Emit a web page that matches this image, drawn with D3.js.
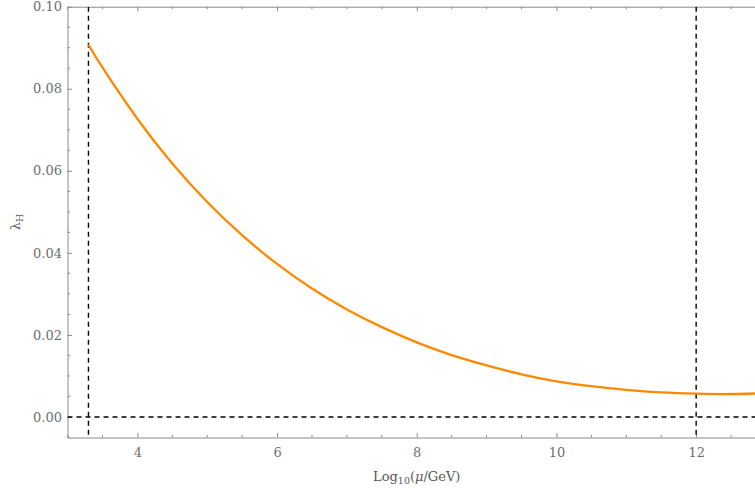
<!DOCTYPE html>
<html>
<head>
<meta charset="utf-8">
<script src="https://cdn.jsdelivr.net/npm/d3@7"></script>
<style>
  html, body { margin: 0; padding: 0; background: #fff; }
  svg { display: block; }
  .tick text { font-family: "DejaVu Serif", serif; font-size: 13px; fill: #6e6e6e; }
  .axis-label { font-family: "DejaVu Serif", serif; font-size: 13px; fill: #555; }
</style>
</head>
<body>
<svg id="chart" width="755" height="493"></svg>
<script>
// Running quartic coupling of the Higgs versus renormalisation scale
const logMu = [3.3, 3.5, 4.0, 4.5, 5.0, 5.5, 6.0, 6.5, 7.0, 7.5, 8.0, 8.5, 9.0, 9.5, 10.0, 10.5, 11.0, 11.5, 12.0, 12.5, 13.0];
const lambdaH = [0.0908, 0.0852, 0.0727, 0.0618, 0.0524, 0.0443, 0.0373, 0.0313, 0.0262, 0.0219, 0.0182, 0.0151, 0.0126, 0.0104, 0.0087, 0.0075, 0.0066, 0.0060, 0.0057, 0.0056, 0.0058];

// Reference lines: lower and upper scale bounds, and lambda = 0
const vLines = [3.3, 12];
const hLines = [0];

const xMajor = [4, 6, 8, 10, 12];
const yMajor = [0.00, 0.02, 0.04, 0.06, 0.08, 0.10];
const xDomain = [3, 13];
const yDomain = [-0.005, 0.1];

const svg = d3.select("#chart");
const plotLeft = 67.5, plotRight = 766, plotTop = 6.7, plotBottom = 437.5;

const x = d3.scaleLinear().domain(xDomain).range([plotLeft, plotRight]);
const y = d3.scaleLinear().domain(yDomain).range([plotBottom, plotTop]);

const frameColor = "#8a8a8a";

// Minor ticks every 0.5 in x and 0.005 in y
const xMinor = d3.range(3, 13.001, 0.5).filter(v => !xMajor.some(m => Math.abs(m - v) < 1e-9));
const yMinor = d3.range(-0.005, 0.1001, 0.005).filter(v => !yMajor.some(m => Math.abs(m - v) < 1e-9));

svg.append("defs").append("clipPath").attr("id", "plot-clip")
  .append("rect").attr("x", plotLeft).attr("y", plotTop)
  .attr("width", plotRight - plotLeft).attr("height", plotBottom - plotTop);

// Bottom axis with labels
const gx = svg.append("g").attr("transform", `translate(0,${plotBottom})`)
  .call(d3.axisBottom(x).tickValues(xMajor).tickFormat(d3.format("d")).tickSize(-4.5).tickSizeOuter(0).tickPadding(10));
gx.append("g").selectAll("line").data(xMinor).join("line")
  .attr("x1", d => x(d)).attr("x2", d => x(d)).attr("y1", 0).attr("y2", -2.5);

// Top frame with ticks only
const gxt = svg.append("g").attr("transform", `translate(0,${plotTop})`)
  .call(d3.axisTop(x).tickValues(xMajor).tickFormat("").tickSize(-4.5).tickSizeOuter(0));
gxt.append("g").selectAll("line").data(xMinor).join("line")
  .attr("x1", d => x(d)).attr("x2", d => x(d)).attr("y1", 0).attr("y2", 2.5);

// Left axis with labels
const gy = svg.append("g").attr("transform", `translate(${plotLeft},0)`)
  .call(d3.axisLeft(y).tickValues(yMajor).tickFormat(d3.format(".2f")).tickSize(-4.5).tickSizeOuter(0).tickPadding(5.5));
gy.append("g").selectAll("line").data(yMinor).join("line")
  .attr("x1", 0).attr("x2", 2.5).attr("y1", d => y(d)).attr("y2", d => y(d));

[gx, gxt, gy].forEach(g => {
  g.select(".domain").attr("stroke", frameColor).attr("stroke-width", 1);
  g.selectAll("line").attr("stroke", frameColor).attr("stroke-width", 1);
});

const plot = svg.append("g").attr("clip-path", "url(#plot-clip)");

// Dashed reference lines
plot.selectAll(".vline").data(vLines).join("line")
  .attr("x1", d => x(d)).attr("x2", d => x(d))
  .attr("y1", plotTop).attr("y2", plotBottom)
  .attr("stroke", "#000").attr("stroke-width", 1.4).attr("stroke-dasharray", "5,4");
plot.selectAll(".hline").data(hLines).join("line")
  .attr("x1", plotLeft).attr("x2", plotRight)
  .attr("y1", d => y(d)).attr("y2", d => y(d))
  .attr("stroke", "#000").attr("stroke-width", 1.4).attr("stroke-dasharray", "5,4");

// Coupling curve
const pts = logMu.map((m, i) => [m, lambdaH[i]]);
plot.append("path").datum(pts)
  .attr("fill", "none")
  .attr("stroke", "rgb(255,136,0)")
  .attr("stroke-width", 2.3)
  .attr("d", d3.line().x(d => x(d[0])).y(d => y(d[1])).curve(d3.curveNatural));

// Axis titles
const xl = svg.append("text").attr("class", "axis-label")
  .attr("x", (plotLeft + plotRight) / 2).attr("y", 481).attr("text-anchor", "middle");
xl.append("tspan").text("Log");
xl.append("tspan").attr("font-size", "9.5px").attr("dy", 3).text("10");
xl.append("tspan").attr("dy", -3).text("(");
xl.append("tspan").attr("font-style", "italic").text("μ");
xl.append("tspan").text("/GeV)");

const yl = svg.append("text").attr("class", "axis-label")
  .attr("transform", `translate(20,${(plotTop + plotBottom) / 2}) rotate(-90)`)
  .attr("text-anchor", "middle");
yl.append("tspan").text("λ");
yl.append("tspan").attr("font-size", "9.5px").attr("dy", 3).text("H");
</script>
</body>
</html>
